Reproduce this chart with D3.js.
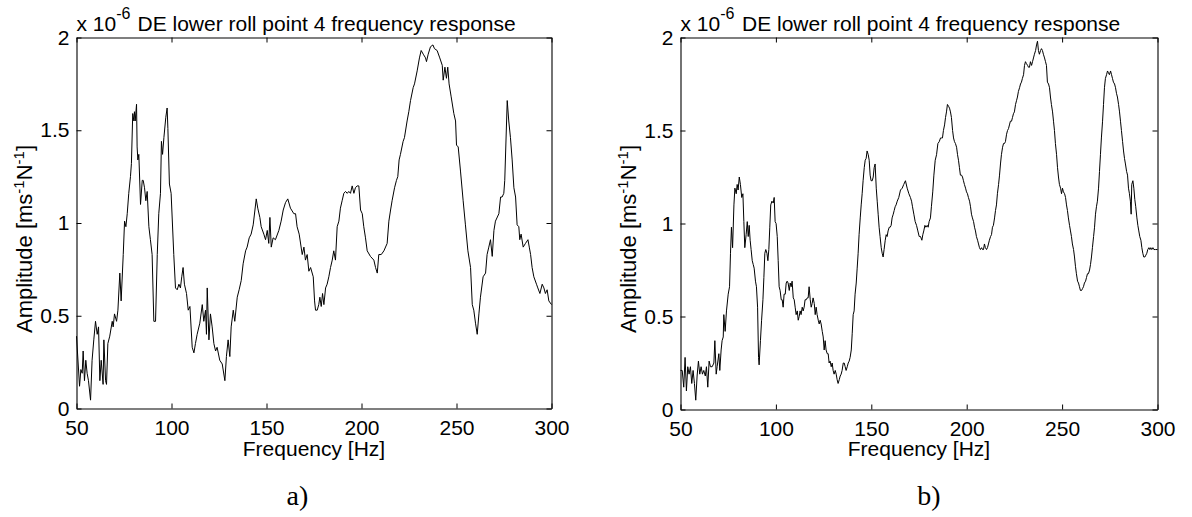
<!DOCTYPE html>
<html><head><meta charset="utf-8">
<script src="https://cdn.jsdelivr.net/npm/d3@7"></script>
<style>body{margin:0;background:#fff}svg{display:block}</style>
</head><body>
<svg id="c" width="1192" height="517"></svg>
<script>
// ---------- data ----------
const freqTicks = [50, 100, 150, 200, 250, 300];
const ampTicks = [0, 0.5, 1, 1.5, 2];
const titleText = "DE lower roll point 4 frequency response";
const exponentBase = "x 10";
const exponentPow = "-6";
const xLabel = "Frequency [Hz]";
const panelCaptions = ["a)", "b)"];

const freqA = [50.0,51.6,52.3,53.0,53.5,54.2,54.9,55.6,56.3,57.4,58.2,59.1,60.0,60.9,61.6,62.3,63.0,64.0,64.4,65.3,65.8,66.5,67.5,68.8,69.3,70.0,71.1,71.8,72.8,73.5,74.6,75.3,76.0,76.7,77.5,78.4,78.9,79.6,80.2,80.5,80.9,81.6,81.9,82.3,82.8,83.7,84.6,85.1,85.8,86.5,87.2,88.1,88.9,89.8,90.7,91.6,92.5,93.3,94.2,94.7,95.3,96.0,97.0,97.7,98.1,98.9,99.8,101.2,102.1,103.0,103.9,104.7,105.4,106.1,106.8,107.9,108.8,109.7,110.9,111.8,112.6,113.5,114.9,116.2,117.0,117.9,118.4,118.8,119.7,120.5,121.4,122.3,123.2,124.0,125.4,126.7,128.1,128.9,129.8,130.7,131.4,132.5,133.3,134.6,135.6,136.7,137.7,139.0,139.8,140.9,141.9,143.0,144.6,145.4,146.5,147.2,148.6,149.5,150.4,151.2,151.8,152.5,153.5,154.7,156.5,157.7,158.8,160.0,161.2,162.6,164.4,165.3,166.1,167.2,
168.8,169.7,170.5,171.4,172.3,173.2,174.6,175.3,175.8,176.7,177.5,178.1,178.8,179.5,180.2,181.1,181.9,182.8,183.7,184.6,185.4,186.3,187.2,188.1,188.9,189.8,190.7,191.6,192.5,193.3,194.2,195.1,196.0,196.8,197.7,198.6,199.5,200.4,201.2,202.1,203.0,204.7,206.5,207.4,208.3,209.1,210.4,211.8,213.5,214.4,215.3,216.1,217.4,218.4,219.1,219.8,220.5,221.9,222.6,224.0,224.9,225.8,227.2,227.9,229.3,230.5,231.4,232.5,233.7,234.2,235.1,236.3,237.6,238.4,239.8,241.2,242.5,243.0,243.9,244.7,245.4,246.1,247.2,248.6,249.5,250.0,250.9,252.1,253.5,254.7,256.0,257.4,258.3,259.1,260.0,260.9,261.8,262.6,264.0,265.3,266.1,267.0,267.9,268.8,269.7,270.5,272.3,273.2,274.0,274.9,275.4,276.7,277.5,278.4,279.3,280.2,281.1,281.9,282.8,283.3,284.0,285.1,286.3,287.6,288.3,289.0,289.8,290.7,292.1,292.8,293.9,295.1,296.0,296.8,297.7,298.6,300.0];
const ampA = [0.39,0.12,0.21,0.19,0.31,0.15,0.26,0.19,0.15,0.045,0.26,0.37,0.47,0.40,0.44,0.15,0.26,0.13,0.37,0.15,0.13,0.35,0.39,0.47,0.44,0.51,0.47,0.53,0.73,0.58,0.83,1.01,0.98,1.05,1.16,1.25,1.32,1.59,1.55,1.60,1.55,1.64,1.41,1.34,1.37,1.10,1.23,1.23,1.19,1.12,1.17,0.98,0.91,0.83,0.47,0.47,0.83,1.05,1.16,1.44,1.37,1.46,1.57,1.62,1.51,1.21,1.16,0.83,0.65,0.64,0.67,0.65,0.71,0.76,0.67,0.62,0.53,0.55,0.33,0.30,0.35,0.40,0.46,0.56,0.47,0.53,0.40,0.65,0.37,0.51,0.44,0.35,0.31,0.33,0.26,0.24,0.15,0.28,0.37,0.28,0.44,0.53,0.47,0.60,0.64,0.69,0.78,0.85,0.87,0.92,0.94,0.99,1.13,1.08,1.03,0.98,0.94,0.91,0.96,0.89,1.03,0.87,0.92,0.91,0.96,1.01,1.07,1.11,1.13,1.08,1.05,1.05,0.98,0.94,
0.83,0.87,0.80,0.83,0.74,0.76,0.71,0.58,0.53,0.53,0.56,0.60,0.55,0.62,0.56,0.65,0.67,0.71,0.76,0.80,0.85,0.80,0.98,1.01,1.08,1.12,1.16,1.17,1.16,1.17,1.16,1.20,1.16,1.19,1.20,1.20,1.07,1.05,0.98,0.92,0.85,0.82,0.80,0.76,0.73,0.83,0.83,0.85,0.89,1.01,1.07,1.12,1.19,1.23,1.25,1.34,1.37,1.44,1.46,1.55,1.60,1.66,1.73,1.75,1.82,1.89,1.93,1.91,1.89,1.87,1.91,1.95,1.96,1.94,1.93,1.89,1.85,1.77,1.84,1.78,1.84,1.75,1.68,1.59,1.55,1.42,1.41,1.28,1.12,0.99,0.85,0.76,0.56,0.53,0.46,0.40,0.51,0.60,0.71,0.73,0.83,0.87,0.91,0.82,0.96,1.01,1.05,1.14,1.14,1.16,1.23,1.66,1.55,1.46,1.34,1.19,1.14,0.99,0.98,0.91,0.94,0.87,0.89,0.91,0.87,0.83,0.76,0.71,0.67,0.65,0.62,0.67,0.65,0.62,0.64,0.58,0.56];

const freqB = [50.0,50.9,51.7,52.4,53.1,53.8,54.5,55.2,55.9,56.6,57.3,58.0,58.7,59.4,60.1,60.8,61.5,62.2,63.0,63.6,64.3,65.0,65.7,66.6,67.5,68.0,68.7,69.2,70.1,70.6,71.3,71.8,72.4,72.7,73.4,74.1,75.0,75.7,76.2,76.7,77.3,78.0,78.5,79.2,79.7,80.2,80.8,81.4,82.1,82.7,83.2,83.7,84.4,85.0,85.5,86.0,86.5,87.0,87.6,88.1,88.6,89.3,89.8,90.4,90.9,91.2,91.9,92.5,93.2,93.7,94.2,94.7,95.3,95.8,96.3,96.8,97.3,97.9,98.6,99.1,99.6,100.1,100.7,101.2,101.7,102.2,102.8,103.3,103.8,104.3,104.9,105.4,105.9,106.4,107.0,107.5,108.0,108.5,109.1,109.6,110.1,110.6,111.2,111.7,112.2,112.7,113.2,113.8,114.3,114.8,115.3,115.9,116.4,116.9,117.4,118.0,118.5,119.0,119.5,120.1,120.6,121.1,121.6,122.2,122.7,123.2,123.7,124.3,124.8,125.3,125.8,126.3,126.9,127.4,127.9,128.4,129.0,129.5,130.0,130.5,131.1,131.6,132.1,132.6,133.2,133.7,134.2,134.7,135.3,135.8,136.3,136.8,137.4,137.9,138.4,138.9,139.5,140.0,140.5,141.0,141.5,142.1,142.6,143.1,143.6,144.2,144.7,145.2,145.7,146.3,146.8,147.3,147.8,148.4,148.9,149.4,149.9,150.5,151.0,151.5,152.0,152.6,153.1,153.6,154.1,154.6,155.2,155.7,156.2,156.7,157.3,157.8,158.3,158.8,159.4,159.9,160.4,160.9,161.5,162.0,162.5,163.0,163.6,164.4,
165.3,166.2,167.0,167.9,168.8,169.7,170.5,171.1,171.6,172.3,173.0,173.7,174.4,175.1,175.8,176.5,177.0,177.5,178.1,178.6,179.3,179.8,180.3,181.0,181.5,182.2,182.8,183.5,184.2,184.9,185.6,186.3,186.8,187.3,187.8,188.4,188.9,189.4,189.9,190.5,191.0,191.5,192.0,192.6,193.1,193.6,194.1,194.7,195.2,195.7,196.2,196.7,197.3,197.8,198.3,198.8,199.4,199.9,200.4,200.9,201.5,202.0,202.5,203.0,203.6,204.1,204.6,205.1,205.7,206.2,206.7,207.2,207.8,208.3,208.8,209.3,209.8,210.4,210.9,211.4,211.9,212.5,213.0,213.5,214.0,214.6,215.1,215.6,216.1,216.7,217.2,217.7,218.2,218.8,219.3,219.8,220.3,220.9,221.4,221.9,222.4,222.9,223.5,224.0,224.5,225.0,225.6,226.1,226.6,227.1,227.7,228.2,228.7,229.2,229.8,230.3,230.8,231.3,231.9,232.4,232.9,233.4,234.0,234.5,235.0,235.5,236.1,236.6,237.1,237.6,238.1,238.7,239.2,239.7,240.2,240.8,241.3,241.8,242.3,242.9,243.4,243.9,244.4,245.0,245.5,246.0,246.5,247.1,247.6,248.1,248.6,249.2,249.7,250.2,250.7,251.3,251.8,252.3,252.8,253.3,253.9,254.4,254.9,255.4,256.0,256.5,257.0,257.5,258.1,258.6,259.1,259.6,260.2,260.7,261.2,261.7,262.3,262.8,263.3,263.8,264.4,264.9,265.4,265.9,266.5,267.0,267.5,268.0,268.5,269.1,269.6,270.1,270.6,271.2,271.7,272.2,272.7,273.3,273.8,274.3,274.8,275.4,275.9,276.4,276.9,277.5,278.0,278.5,279.0,279.6,280.1,280.6,281.1,281.7,282.2,282.7,283.2,283.8,284.3,284.8,285.3,285.8,286.2,286.5,287.1,287.6,288.1,288.6,289.2,289.7,290.2,290.7,291.3,291.8,292.3,292.8,293.4,293.9,294.4,294.9,295.5,296.0,296.5,297.0,297.6,298.1,299.0,300.0];
const ampB = [0.21,0.21,0.12,0.28,0.10,0.23,0.19,0.23,0.14,0.21,0.14,0.05,0.18,0.26,0.19,0.23,0.19,0.21,0.18,0.23,0.12,0.26,0.23,0.23,0.25,0.37,0.19,0.23,0.30,0.21,0.32,0.37,0.39,0.51,0.42,0.53,0.62,0.66,0.84,0.98,0.87,1.10,1.19,1.16,1.21,1.18,1.25,1.21,1.14,1.16,1.01,0.87,0.94,1.01,0.93,0.99,0.91,0.86,0.80,0.78,0.76,0.69,0.66,0.55,0.28,0.24,0.37,0.48,0.59,0.71,0.84,0.86,0.84,0.80,0.86,0.98,1.10,1.12,1.11,1.14,1.01,1.00,0.93,0.80,0.66,0.64,0.59,0.59,0.55,0.62,0.62,0.68,0.69,0.68,0.64,0.68,0.66,0.69,0.60,0.59,0.55,0.51,0.53,0.48,0.50,0.53,0.51,0.55,0.53,0.55,0.59,0.59,0.60,0.60,0.66,0.59,0.55,0.57,0.60,0.57,0.51,0.55,0.51,0.48,0.46,0.48,0.46,0.42,0.39,0.32,0.37,0.32,0.30,0.30,0.25,0.26,0.23,0.25,0.21,0.19,0.21,0.19,0.16,0.14,0.16,0.18,0.19,0.21,0.25,0.25,0.23,0.21,0.23,0.25,0.26,0.28,0.32,0.41,0.51,0.53,0.62,0.68,0.76,0.84,0.94,1.03,1.10,1.16,1.23,1.30,1.34,1.35,1.39,1.37,1.34,1.26,1.23,1.23,1.25,1.30,1.32,1.19,1.12,1.05,0.98,0.93,0.87,0.84,0.82,0.86,0.91,0.94,0.93,0.96,0.98,0.98,0.99,1.03,1.05,1.07,1.09,1.10,1.12,1.14,
1.18,1.19,1.21,1.23,1.19,1.16,1.14,1.12,1.09,1.05,1.01,0.99,0.96,0.93,0.93,0.91,0.94,0.96,0.99,0.98,0.99,0.98,1.01,1.03,1.09,1.17,1.26,1.34,1.37,1.43,1.44,1.46,1.46,1.46,1.50,1.53,1.57,1.60,1.64,1.63,1.62,1.60,1.57,1.50,1.46,1.44,1.43,1.41,1.37,1.34,1.30,1.26,1.26,1.25,1.23,1.21,1.19,1.17,1.16,1.14,1.12,1.09,1.05,1.03,1.01,0.98,0.96,0.93,0.91,0.89,0.87,0.86,0.87,0.86,0.86,0.89,0.87,0.86,0.87,0.89,0.91,0.93,0.94,0.98,0.99,1.03,1.07,1.10,1.16,1.21,1.26,1.32,1.37,1.41,1.43,1.43,1.44,1.48,1.50,1.51,1.53,1.55,1.55,1.57,1.59,1.60,1.64,1.66,1.68,1.71,1.73,1.75,1.76,1.78,1.80,1.85,1.87,1.86,1.85,1.84,1.84,1.87,1.85,1.87,1.89,1.91,1.93,1.96,1.98,1.93,1.91,1.93,1.94,1.93,1.91,1.89,1.87,1.85,1.76,1.75,1.73,1.68,1.64,1.60,1.55,1.50,1.43,1.37,1.30,1.25,1.21,1.19,1.16,1.19,1.17,1.16,1.14,1.10,1.07,1.03,0.99,0.96,0.93,0.89,0.86,0.82,0.77,0.73,0.69,0.68,0.66,0.64,0.64,0.65,0.66,0.68,0.69,0.71,0.73,0.73,0.75,0.78,0.82,0.87,0.93,0.98,1.05,1.09,1.12,1.19,1.28,1.37,1.46,1.55,1.64,1.73,1.78,1.80,1.82,1.81,1.80,1.82,1.80,1.78,1.76,1.75,1.73,1.70,1.68,1.64,1.60,1.55,1.50,1.44,1.39,1.35,1.32,1.28,1.26,1.19,1.16,1.12,1.05,1.21,1.23,1.19,1.13,1.09,1.03,0.99,0.96,0.93,0.91,0.87,0.84,0.82,0.82,0.83,0.84,0.86,0.87,0.86,0.87,0.86,0.87,0.86,0.86,0.86];

// ---------- layout ----------
const FONT = "'Liberation Sans', Arial, Helvetica, sans-serif";
const SERIF = "'Liberation Serif', 'Times New Roman', serif";
const panels = [
  {freq: freqA, amp: ampA, left: 76.5, right: 551.5, top: 37.5, bottom: 408.5, capX: 297.5, titleDx: 61},
  {freq: freqB, amp: ampB, left: 680.5, right: 1157.5, top: 37.5, bottom: 409.5, capX: 929, titleDx: 61.5}
];

const svg = d3.select("#c");
svg.append("rect").attr("width", 1192).attr("height", 517).attr("fill", "#fff");

panels.forEach((p, i) => {
  const x = d3.scaleLinear().domain([50, 300]).range([p.left, p.right]);
  const y = d3.scaleLinear().domain([0, 2]).range([p.bottom, p.top]);
  const g = svg.append("g").attr("font-family", FONT);

  const style = sel => {
    sel.attr("font-family", FONT).attr("font-size", 21);
    sel.select(".domain").attr("stroke", "#000").attr("stroke-width", 1.1);
    sel.selectAll(".tick line").attr("stroke", "#000").attr("stroke-width", 1);
    sel.selectAll(".tick text").attr("fill", "#000");
  };

  g.append("g").attr("transform", `translate(0,${p.bottom})`)
    .call(d3.axisBottom(x).tickValues(freqTicks).tickSizeInner(-5).tickSizeOuter(0).tickPadding(12).tickFormat(d3.format("d")))
    .call(style);
  g.append("g").attr("transform", `translate(0,${p.top})`)
    .call(d3.axisTop(x).tickValues(freqTicks).tickSizeInner(-5).tickSizeOuter(0).tickFormat(""))
    .call(style);
  g.append("g").attr("transform", `translate(${p.left},0)`)
    .call(d3.axisLeft(y).tickValues(ampTicks).tickSizeInner(-5).tickSizeOuter(0).tickPadding(7).tickFormat(d => String(d)))
    .call(style);
  g.append("g").attr("transform", `translate(${p.right},0)`)
    .call(d3.axisRight(y).tickValues(ampTicks).tickSizeInner(-5).tickSizeOuter(0).tickFormat(""))
    .call(style);

  const n = Math.min(p.freq.length, p.amp.length);
  const pts = d3.range(n).map(k => [p.freq[k], p.amp[k]]);
  g.append("path").datum(pts)
    .attr("fill", "none").attr("stroke", "#000").attr("stroke-width", 1)
    .attr("stroke-linejoin", "miter")
    .attr("d", d3.line().x(d => x(d[0])).y(d => y(d[1])));

  // exponent label
  const ex = g.append("text").attr("x", p.left).attr("y", 31).attr("font-size", 21).attr("fill", "#000");
  ex.append("tspan").text(exponentBase);
  ex.append("tspan").attr("font-size", 16).attr("dy", -12).text(exponentPow);

  // title
  g.append("text").attr("x", p.left + p.titleDx).attr("y", 31).attr("font-size", 21).attr("fill", "#000").text(titleText);

  // x label
  g.append("text").attr("x", (p.left + p.right) / 2).attr("y", 456).attr("text-anchor", "middle")
    .attr("font-size", 21).attr("fill", "#000").text(xLabel);

  // y label
  const yl = g.append("text").attr("transform", `translate(${p.left - 45},${239}) rotate(-90)`)
    .attr("text-anchor", "middle").attr("font-size", 22).attr("fill", "#000");
  yl.append("tspan").text("Amplitude [ms");
  yl.append("tspan").attr("font-size", 15).attr("dy", -8).text("-1");
  yl.append("tspan").attr("dy", 8).text("N");
  yl.append("tspan").attr("font-size", 15).attr("dy", -8).text("-1");
  yl.append("tspan").attr("dy", 8).text("]");

  // caption
  svg.append("text").attr("x", p.capX).attr("y", 505).attr("text-anchor", "middle")
    .attr("font-family", SERIF).attr("font-size", 28).attr("fill", "#000").text(panelCaptions[i]);
});
</script>
</body></html>
